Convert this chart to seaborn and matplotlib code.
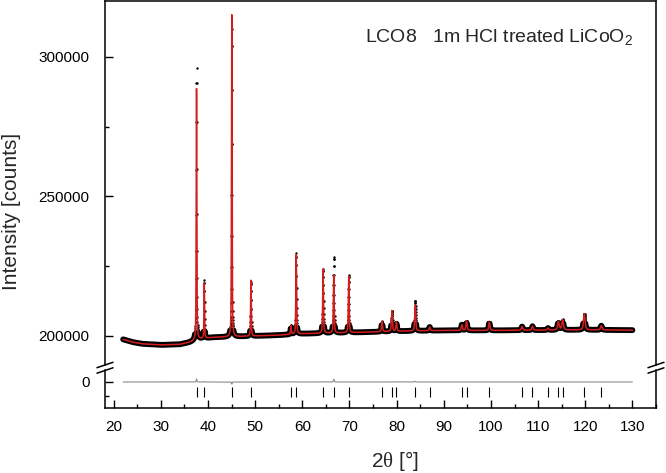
import numpy as np
import matplotlib
matplotlib.use('Agg')
import matplotlib.pyplot as plt
import seaborn as sns
from matplotlib.lines import Line2D
from matplotlib.ticker import MultipleLocator, FormatStrFormatter

# measured pattern: 2theta grid, background knots, reflections
tt_start, tt_end, tt_step = 22.0, 130.0, 0.02
bg_pos = [22, 24, 26, 30, 34, 36, 38, 41, 45, 50, 55, 60, 70, 80, 90, 100, 110, 120, 130]
bg_counts = [198800, 197800, 197200, 196800, 197000, 197700, 198800, 199500, 199700,
             200000, 200300, 200800, 201200, 201700, 202000, 202000, 202100, 202200, 202100]

peak_pos = [37.56, 39.20, 45.04, 49.10, 57.60, 58.70, 64.40, 66.66, 69.84, 76.90, 79.00,
            79.96, 83.94, 87.00, 93.82, 94.82, 99.66, 106.60, 108.80, 112.10, 114.30,
            115.20, 119.80, 123.40]
peak_calc = [90000, 19700, 115300, 20000, 3000, 28400, 23000, 20800, 20200, 3700, 7400,
             3300, 9200, 1300, 2000, 3400, 3000, 1300, 1400, 700, 3000, 3700, 5800, 1500]
peak_obs = [97500, 21000, 110300, 19500, 3200, 28900, 23000, 27300, 20500, 3700, 7400,
            3300, 10800, 1300, 2000, 3400, 3000, 1300, 1400, 700, 3000, 3700, 5800, 1500]
peak_fwhm = [0.15, 0.15, 0.15, 0.16, 0.2, 0.18, 0.2, 0.2, 0.2, 0.25, 0.25, 0.25, 0.25,
             0.3, 0.3, 0.3, 0.3, 0.35, 0.35, 0.35, 0.4, 0.4, 0.4, 0.4]

bragg_pos = [37.64, 39.17, 45.07, 49.13, 57.57, 58.71, 64.38, 66.70, 69.91, 76.96, 79.04,
             79.95, 83.94, 87.00, 93.83, 94.83, 99.66, 106.6, 108.8, 112.1, 114.3, 115.2,
             119.8, 123.4]

diff_scale = 0.15  # difference curve is drawn compressed


def profile(x, heights):
    y = np.zeros_like(x)
    for p, h, w in zip(peak_pos, heights, peak_fwhm):
        d = (x - p) / w
        y += h * (0.5 * np.exp(-4 * np.log(2) * d ** 2) + 0.5 / (1 + 4 * d ** 2))
    return y


tt = np.arange(tt_start, tt_end + tt_step / 2, tt_step)
bg = np.interp(tt, bg_pos, bg_counts)
calc = bg + profile(tt, peak_calc)
obs = bg + profile(tt, peak_obs)
diff = (obs - calc) * diff_scale
band = np.where(obs - bg < 2500, obs, np.nan)

sns.set_style('ticks')
plt.rcParams['font.family'] = ['Liberation Sans', 'DejaVu Sans']
plt.rcParams['mathtext.fontset'] = 'custom'
plt.rcParams['mathtext.rm'] = 'Liberation Serif'

W, H = 666, 473
fig = plt.figure(figsize=(W / 100, H / 100), dpi=100)
left, right = 105, 656
ax = fig.add_axes([left / W, 1 - 365 / H, (right - left) / W, 364 / H])
axd = fig.add_axes([left / W, 1 - 408 / H, (right - left) / W, 38 / H])

ax.plot(tt, band, color='black', lw=4.2, solid_capstyle='round', zorder=2)
sns.scatterplot(x=tt, y=obs, ax=ax, color='black', s=3, linewidth=0, zorder=3)
sns.lineplot(x=tt, y=calc, ax=ax, color='#d41e1e', lw=1.1, zorder=4)

sns.lineplot(x=tt, y=diff, ax=axd, color='#8a8a8a', lw=0.8)
axd.vlines(bragg_pos, -5400, -1800, color='black', lw=0.8)

xlim = (18.15, 135.0)
for a in (ax, axd):
    a.set_xlim(*xlim)
    a.set_xlabel('')
    a.set_ylabel('')
    for s in a.spines.values():
        s.set_linewidth(1.1)
        s.set_color('black')
    a.tick_params(which='both', direction='in', width=1.0, labelsize=11, colors='black')
    a.tick_params(which='major', length=5.8)
    a.tick_params(which='minor', length=3)

ax.set_ylim(189617, 319940)
ax.spines['bottom'].set_visible(False)
ax.tick_params(axis='x', which='both', bottom=False, labelbottom=False)
ax.yaxis.set_major_locator(MultipleLocator(50000))
ax.yaxis.set_minor_locator(MultipleLocator(25000))
ax.yaxis.set_major_formatter(FormatStrFormatter('%d'))
ax.tick_params(axis='y', pad=11)

axd.set_ylim(-9309, 4296)
axd.spines['top'].set_visible(False)
axd.yaxis.set_major_locator(MultipleLocator(10000))
axd.yaxis.set_minor_locator(MultipleLocator(5000))
axd.yaxis.set_major_formatter(FormatStrFormatter('%d'))
axd.xaxis.set_major_locator(MultipleLocator(10))
axd.xaxis.set_minor_locator(MultipleLocator(5))
axd.tick_params(axis='y', pad=11)
axd.tick_params(axis='x', pad=8.5)

# axis break marks
for px in (left, right):
    for py in (365, 370.5):
        fig.add_artist(Line2D([(px - 8) / W, (px + 8) / W],
                              [1 - (py + 2.7) / H, 1 - (py - 2.7) / H],
                              color='black', lw=1.1))

fig.text(365 / W, 1 - 42.7 / H, 'LCO8   1m HCl treated LiCoO$_\\mathregular{2}$',
         fontsize=14, ha='left', va='baseline')
fig.text(12 / W, 1 - 211 / H, 'Intensity [counts]', fontsize=15, rotation=90,
         ha='center', va='center')
fig.text(394.5 / W, 1 - 461 / H, '2$\\mathrm{\\theta}$ [°]', fontsize=15,
         ha='center', va='center')

fig.savefig('out.png', dpi=100)
